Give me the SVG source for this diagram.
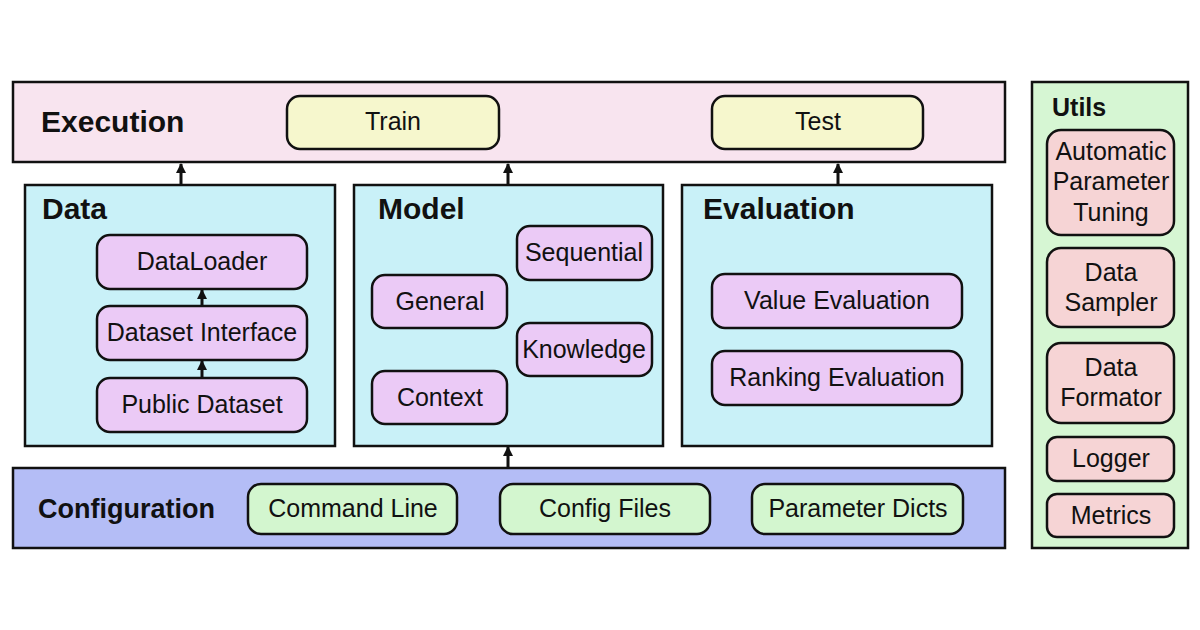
<svg xmlns="http://www.w3.org/2000/svg" width="1200" height="630" viewBox="0 0 1200 630">
<defs>
<style>
.panel{stroke:#111;stroke-width:2.5}
.node{stroke:#111;stroke-width:2.5}
.t{font-family:"Liberation Sans",Arial,sans-serif;font-size:25px;fill:#111;text-anchor:middle}
.h{font-family:"Liberation Sans",Arial,sans-serif;font-weight:bold;font-size:30px;fill:#111}
.exe{fill:#f8e4ef}
.blue{fill:#c9f1f8}
.conf{fill:#b4bdf6}
.utl{fill:#d6f6d3}
.yel{fill:#f6f7cd}
.pur{fill:#ebcaf6}
.grn{fill:#d3f6cf}
.red{fill:#f6d4d5}
.arr{stroke:#111;stroke-width:3;fill:none}
</style>
<marker id="ah" viewBox="0 0 10 10" refX="9" refY="5" markerWidth="3.5" markerHeight="3.5" orient="auto" markerUnits="strokeWidth">
<path d="M0,0 L10,5 L0,10 z" fill="#111"/>
</marker>
</defs>
<rect width="1200" height="630" fill="#fff"/>

<g id="execution">
<rect class="panel exe" x="13" y="82" width="992" height="80"/>
<text class="h" x="41" y="132">Execution</text>
<g id="train"><rect class="node yel" x="287" y="96" width="212" height="53" rx="13"/><text class="t" x="393" y="130">Train</text></g>
<g id="test"><rect class="node yel" x="712" y="96" width="211" height="53" rx="13"/><text class="t" x="818" y="130">Test</text></g>
</g>

<g id="data">
<rect class="panel blue" x="25" y="185" width="310" height="261"/>
<text class="h" x="42" y="219">Data</text>
<g id="dataloader"><rect class="node pur" x="97" y="235" width="210" height="54" rx="13"/><text class="t" x="202" y="270">DataLoader</text></g>
<g id="dataset-interface"><rect class="node pur" x="97" y="306" width="210" height="54" rx="13"/><text class="t" x="202" y="341">Dataset Interface</text></g>
<g id="public-dataset"><rect class="node pur" x="97" y="378" width="210" height="54" rx="13"/><text class="t" x="202" y="413">Public Dataset</text></g>
</g>

<g id="model">
<rect class="panel blue" x="354" y="185" width="309" height="261"/>
<text class="h" x="378" y="219">Model</text>
<g id="sequential"><rect class="node pur" x="517" y="226" width="135" height="54" rx="13"/><text class="t" x="584" y="261">Sequential</text></g>
<g id="general"><rect class="node pur" x="372" y="275" width="135" height="53" rx="13"/><text class="t" x="440" y="310">General</text></g>
<g id="knowledge"><rect class="node pur" x="517" y="323" width="135" height="53" rx="13"/><text class="t" x="584" y="358">Knowledge</text></g>
<g id="context"><rect class="node pur" x="372" y="371" width="135" height="53" rx="13"/><text class="t" x="440" y="406">Context</text></g>
</g>

<g id="evaluation">
<rect class="panel blue" x="682" y="185" width="310" height="261"/>
<text class="h" x="703" y="219">Evaluation</text>
<g id="value-evaluation"><rect class="node pur" x="712" y="274" width="250" height="54" rx="13"/><text class="t" x="837" y="309">Value Evaluation</text></g>
<g id="ranking-evaluation"><rect class="node pur" x="712" y="351" width="250" height="54" rx="13"/><text class="t" x="837" y="386">Ranking Evaluation</text></g>
</g>

<g id="configuration">
<rect class="panel conf" x="13" y="468" width="992" height="80"/>
<text class="h" x="38" y="518" style="font-size:27px">Configuration</text>
<g id="command-line"><rect class="node grn" x="248" y="484" width="209" height="50" rx="13"/><text class="t" x="353" y="517">Command Line</text></g>
<g id="config-files"><rect class="node grn" x="500" y="484" width="210" height="50" rx="13"/><text class="t" x="605" y="517">Config Files</text></g>
<g id="parameter-dicts"><rect class="node grn" x="752" y="484" width="211" height="50" rx="13"/><text class="t" x="858" y="517">Parameter Dicts</text></g>
</g>

<g id="utils">
<rect class="panel utl" x="1032" y="82" width="156" height="466"/>
<text class="h" x="1052" y="116" style="font-size:25px">Utils</text>
<g id="auto-tuning"><rect class="node red" x="1047" y="130" width="127" height="105" rx="14"/><text class="t" x="1111" y="160">Automatic</text><text class="t" x="1111" y="190">Parameter</text><text class="t" x="1111" y="221">Tuning</text></g>
<g id="data-sampler"><rect class="node red" x="1047" y="248" width="127" height="79" rx="14"/><text class="t" x="1111" y="281">Data</text><text class="t" x="1111" y="311">Sampler</text></g>
<g id="data-formator"><rect class="node red" x="1047" y="343" width="127" height="80" rx="14"/><text class="t" x="1111" y="376">Data</text><text class="t" x="1111" y="406">Formator</text></g>
<g id="logger"><rect class="node red" x="1047" y="437" width="127" height="44" rx="10"/><text class="t" x="1111" y="467">Logger</text></g>
<g id="metrics"><rect class="node red" x="1047" y="494" width="127" height="43" rx="10"/><text class="t" x="1111" y="524">Metrics</text></g>
</g>

<g id="connectors">
<line class="arr" x1="181" y1="184" x2="181" y2="164" marker-end="url(#ah)"/>
<line class="arr" x1="508" y1="184" x2="508" y2="164" marker-end="url(#ah)"/>
<line class="arr" x1="838" y1="184" x2="838" y2="164" marker-end="url(#ah)"/>
<line class="arr" x1="508" y1="467" x2="508" y2="447" marker-end="url(#ah)"/>
<line class="arr" x1="202" y1="305" x2="202" y2="290" marker-end="url(#ah)"/>
<line class="arr" x1="202" y1="377" x2="202" y2="361" marker-end="url(#ah)"/>
</g>
</svg>
